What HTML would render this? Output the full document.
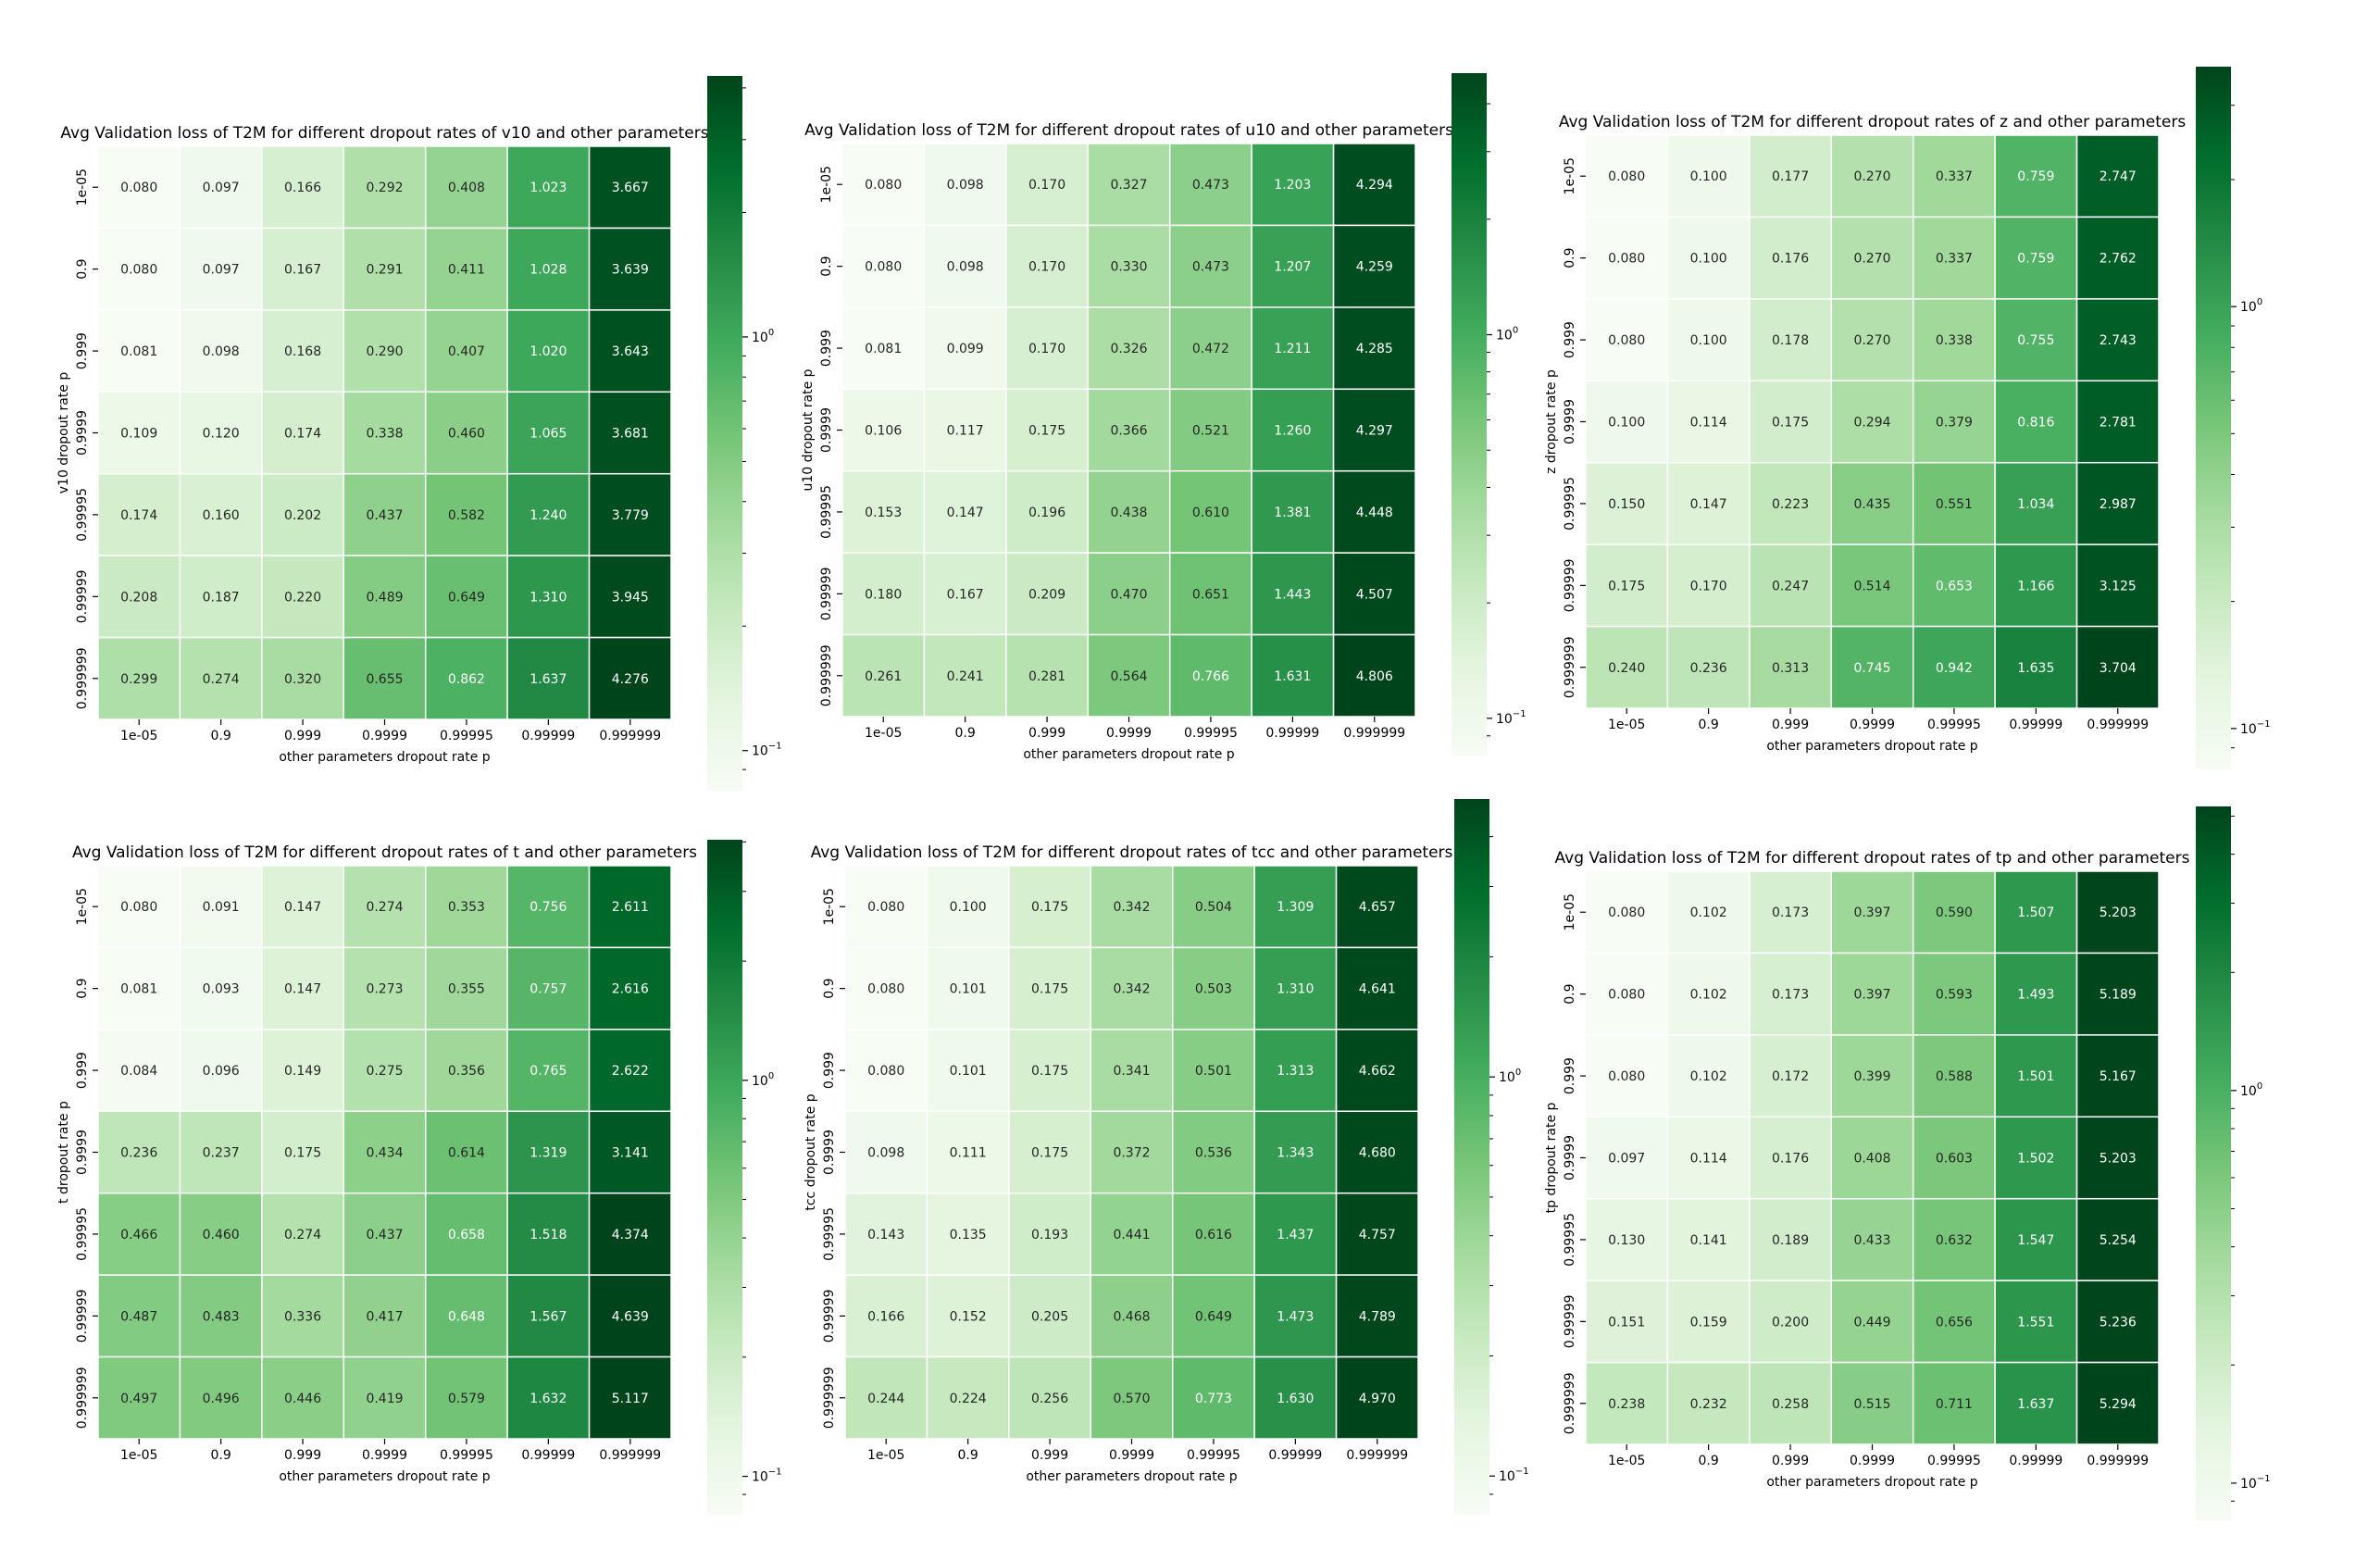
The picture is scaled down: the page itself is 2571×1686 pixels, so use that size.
<!DOCTYPE html>
<html><head><meta charset="utf-8">
<style>
html,body{margin:0;padding:0;background:#fff;}
svg{display:block;font-family:"DejaVu Sans","Liberation Sans",sans-serif;}
</style></head>
<body>
<svg id="fig" width="2571" height="1686" viewBox="0 0 2571 1686" xmlns="http://www.w3.org/2000/svg">
<defs>
<linearGradient id="greens" x1="0" y1="1" x2="0" y2="0">
<stop offset="0" stop-color="#f7fcf5"/><stop offset="0.125" stop-color="#e5f5e0"/><stop offset="0.25" stop-color="#c7e9c0"/><stop offset="0.375" stop-color="#a1d99b"/><stop offset="0.5" stop-color="#74c476"/><stop offset="0.625" stop-color="#41ab5d"/><stop offset="0.75" stop-color="#238b45"/><stop offset="0.875" stop-color="#006d2c"/><stop offset="1" stop-color="#00441b"/>
</linearGradient>
</defs>
</svg>
<script>
const categories = ["1e-05","0.9","0.999","0.9999","0.99995","0.99999","0.999999"];
const varNames = ["v10","u10","z","t","tcc","tp"];
const valuesV10 = [
[0.080,0.097,0.166,0.292,0.408,1.023,3.667],
[0.080,0.097,0.167,0.291,0.411,1.028,3.639],
[0.081,0.098,0.168,0.290,0.407,1.020,3.643],
[0.109,0.120,0.174,0.338,0.460,1.065,3.681],
[0.174,0.160,0.202,0.437,0.582,1.240,3.779],
[0.208,0.187,0.220,0.489,0.649,1.310,3.945],
[0.299,0.274,0.320,0.655,0.862,1.637,4.276]];
const valuesU10 = [
[0.080,0.098,0.170,0.327,0.473,1.203,4.294],
[0.080,0.098,0.170,0.330,0.473,1.207,4.259],
[0.081,0.099,0.170,0.326,0.472,1.211,4.285],
[0.106,0.117,0.175,0.366,0.521,1.260,4.297],
[0.153,0.147,0.196,0.438,0.610,1.381,4.448],
[0.180,0.167,0.209,0.470,0.651,1.443,4.507],
[0.261,0.241,0.281,0.564,0.766,1.631,4.806]];
const valuesZ = [
[0.080,0.100,0.177,0.270,0.337,0.759,2.747],
[0.080,0.100,0.176,0.270,0.337,0.759,2.762],
[0.080,0.100,0.178,0.270,0.338,0.755,2.743],
[0.100,0.114,0.175,0.294,0.379,0.816,2.781],
[0.150,0.147,0.223,0.435,0.551,1.034,2.987],
[0.175,0.170,0.247,0.514,0.653,1.166,3.125],
[0.240,0.236,0.313,0.745,0.942,1.635,3.704]];
const valuesT = [
[0.080,0.091,0.147,0.274,0.353,0.756,2.611],
[0.081,0.093,0.147,0.273,0.355,0.757,2.616],
[0.084,0.096,0.149,0.275,0.356,0.765,2.622],
[0.236,0.237,0.175,0.434,0.614,1.319,3.141],
[0.466,0.460,0.274,0.437,0.658,1.518,4.374],
[0.487,0.483,0.336,0.417,0.648,1.567,4.639],
[0.497,0.496,0.446,0.419,0.579,1.632,5.117]];
const valuesTcc = [
[0.080,0.100,0.175,0.342,0.504,1.309,4.657],
[0.080,0.101,0.175,0.342,0.503,1.310,4.641],
[0.080,0.101,0.175,0.341,0.501,1.313,4.662],
[0.098,0.111,0.175,0.372,0.536,1.343,4.680],
[0.143,0.135,0.193,0.441,0.616,1.437,4.757],
[0.166,0.152,0.205,0.468,0.649,1.473,4.789],
[0.244,0.224,0.256,0.570,0.773,1.630,4.970]];
const valuesTp = [
[0.080,0.102,0.173,0.397,0.590,1.507,5.203],
[0.080,0.102,0.173,0.397,0.593,1.493,5.189],
[0.080,0.102,0.172,0.399,0.588,1.501,5.167],
[0.097,0.114,0.176,0.408,0.603,1.502,5.203],
[0.130,0.141,0.189,0.433,0.632,1.547,5.254],
[0.151,0.159,0.200,0.449,0.656,1.551,5.236],
[0.238,0.232,0.258,0.515,0.711,1.637,5.294]];
const allValues = [valuesV10,valuesU10,valuesZ,valuesT,valuesTcc,valuesTp];
const vmaxOverride = [null,null,null,4.05,null,null];

const layout = [
 {x:106,y:158,cbx:764,cbt:82,cbb:854},
 {x:910,y:155,cbx:1568,cbt:79,cbb:816},
 {x:1713,y:146,cbx:2372,cbt:72,cbb:831},
 {x:106,y:935,cbx:764,cbt:907,cbb:1636},
 {x:913,y:935,cbx:1571,cbt:863,cbb:1636},
 {x:1713,y:941,cbx:2372,cbt:871,cbb:1643}];
const SIZE=619, CBW=38;
const stops=["#f7fcf5","#e5f5e0","#c7e9c0","#a1d99b","#74c476","#41ab5d","#238b45","#006d2c","#00441b"].map(h=>[1,3,5].map(i=>parseInt(h.substr(i,2),16)));
function cmap(t){t=Math.max(0,Math.min(1,t));const p=t*8;const i=Math.min(7,Math.floor(p));const f=p-i;return stops[i].map((c,k)=>c+(stops[i+1][k]-c)*f);}
function lum(rgb){const l=rgb.map(c=>{c/=255;return c<=0.03928?c/12.92:Math.pow((c+0.055)/1.055,2.4);});return 0.2126*l[0]+0.7152*l[1]+0.0722*l[2];}
const NS="http://www.w3.org/2000/svg";
const svg=document.getElementById('fig');
function mk(tag,attrs,parent,text){const e=document.createElementNS(NS,tag);for(const k in attrs)e.setAttribute(k,attrs[k]);if(text!==undefined)e.textContent=text;(parent||svg).appendChild(e);return e;}

allValues.forEach((vals,pi)=>{
  const L=layout[pi];
  const flat=vals.flat();const vmin=Math.min(...flat);const vmax=vmaxOverride[pi]||Math.max(...flat);
  const norm=v=>(Math.log(v)-Math.log(vmin))/(Math.log(vmax)-Math.log(vmin));
  const cell=SIZE/categories.length;
  const xScale=i=>L.x+i*cell, yScale=j=>L.y+j*cell;
  const g=mk('g',{});
  
  
  const title=mk('text',{x:L.x+SIZE/2,y:L.y-9,'text-anchor':'middle','font-size':'17',fill:'#000'},g,'Avg Validation loss of T2M for different dropout rates of '+varNames[pi]+' and other parameters');
  
  
  vals.forEach((row,r)=>row.forEach((v,c)=>{
    const rgb=cmap(norm(v));
    const rect=mk('rect',{x:xScale(c),y:yScale(r),width:cell,height:cell,fill:'rgb('+rgb.map(Math.round).join(',')+')',stroke:'#fff','stroke-width':1.5},g);
    
    
    const t=mk('text',{x:xScale(c)+cell/2,y:yScale(r)+cell/2+5,'text-anchor':'middle','font-size':'14',fill:lum(rgb)<0.408?'#fff':'#262626'},g,v.toFixed(3));
    
    
  }));
  categories.forEach((cat,i)=>{
    const cx=xScale(i)+cell/2;
    mk('line',{x1:cx,y1:L.y+SIZE,x2:cx,y2:L.y+SIZE+6,stroke:'#000','stroke-width':1.2},g);
    const xt=mk('text',{x:cx,y:L.y+SIZE+22,'text-anchor':'middle','font-size':'14',fill:'#000'},g,cat);
    
    
    const cy=yScale(i)+cell/2;
    mk('line',{x1:L.x-6,y1:cy,x2:L.x,y2:cy,stroke:'#000','stroke-width':1.2},g);
    const yt=mk('text',{x:0,y:0,'text-anchor':'middle','font-size':'14',fill:'#000',transform:'translate('+(L.x-13)+','+cy+') rotate(-90)'},g,cat);
    
    
  });
  const xl=mk('text',{x:L.x+SIZE/2,y:L.y+SIZE+45,'text-anchor':'middle','font-size':'14',fill:'#000'},g,'other parameters dropout rate p');
  
  
  const yl=mk('text',{x:0,y:0,'text-anchor':'middle','font-size':'14',fill:'#000',transform:'translate('+(L.x-33)+','+(L.y+SIZE/2)+') rotate(-90)'},g,varNames[pi]+' dropout rate p');
  
  
  const cb=mk('rect',{x:L.cbx,y:L.cbt,width:CBW,height:L.cbb-L.cbt,fill:'url(#greens)'},g);
  
  
  const cbY=v=>L.cbb-norm(v)*(L.cbb-L.cbt);
  const minor=[0.09,0.2,0.3,0.4,0.5,0.6,0.7,0.8,0.9,2,3,4,5,6];
  minor.forEach(v=>{if(v>=vmin&&v<=vmax){const y=cbY(v);mk('line',{x1:L.cbx+CBW,y1:y,x2:L.cbx+CBW+4,y2:y,stroke:'#000','stroke-width':1},g);}});
  [[0.1,'−1'],[1,'0']].forEach(([v,e])=>{
    const y=cbY(v);
    mk('line',{x1:L.cbx+CBW,y1:y,x2:L.cbx+CBW+6,y2:y,stroke:'#000','stroke-width':1.2},g);
    const lab=mk('text',{x:L.cbx+CBW+10,y:y+5,'font-size':'14',fill:'#000'},g);
    
    
    mk('tspan',{},lab,'10');
    mk('tspan',{'font-size':'10',dy:'-7'},lab,e);
  });
});
</script>
</body></html>
